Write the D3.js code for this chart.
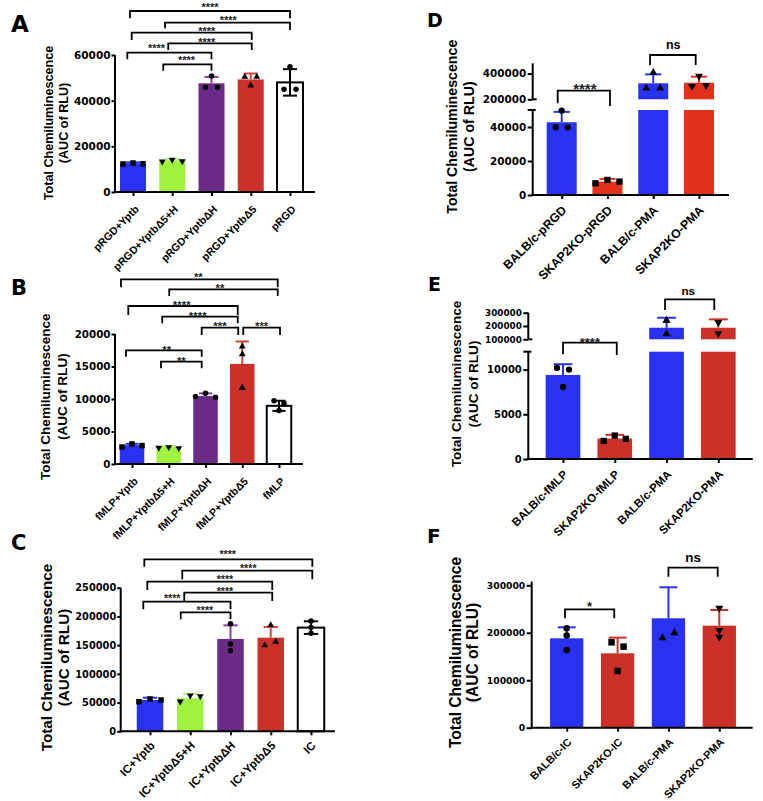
<!DOCTYPE html>
<html><head><meta charset="utf-8">
<script src="https://cdn.jsdelivr.net/npm/d3@7"></script>
<style>body{margin:0;background:#fff} svg{display:block}</style>
</head><body>
<svg id="c" width="763" height="801"></svg>
<script>
// ================= DATA =================
const catsA = ["pRGD+Yptb","pRGD+YptbΔ5+H","pRGD+YptbΔH","pRGD+YptbΔ5","pRGD"];
const meansA = [12600, 13900, 47600, 49300, 48000];
const sdA = [400, 500, 2800, 2600, 5800];
const ptsA = [[12300,12700,12400],[13600,14300,13700],[50800,45900,45900],[50200,46400,50200],[54900,45000,45000]];

const catsB = ["fMLP+Yptb","fMLP+YptbΔ5+H","fMLP+YptbΔH","fMLP+YptbΔ5","fMLP"];
const meansB = [2900, 2650, 10450, 15400, 8950];
const sdB = [200, 120, 420, 3450, 780];
const ptsB = [[2620,3085,2830],[2570,2670,2520],[10390,10900,10280],[17990,16810,11670],[9720,9360,8230]];

const catsC = ["IC+Yptb","IC+YptbΔ5+H","IC+YptbΔH","IC+YptbΔ5","IC"];
const meansC = [54500, 57400, 160700, 163000, 180500];
const sdC = [4000, 7500, 23800, 18500, 11000];
const ptsC = [[51600,56300,54500],[52800,63200,62000],[187400,152000,140400],[184000,149100,155000],[192100,180500,170700]];

const catsD = ["BALB/c-pRGD","SKAP2KO-pRGD","BALB/c-PMA","SKAP2KO-PMA"];
const meansD = [42800, 7900, 324400, 329000];
const sdD = [6100, 1550, 69600, 47000];
const ptsD = [[49650,39800,39800],[6900,8870,7880],[405000,283000,283000],[385000,305000,312000]];

const catsE = ["BALB/c-fMLP","SKAP2KO-fMLP","BALB/c-PMA","SKAP2KO-PMA"];
const meansE = [9400, 2290, 187000, 187000];
const sdE = [1200, 410, 75000, 63000];
const ptsE = [[10190,10000,8050],[2020,2620,2250],[237000,237000,137000],[232000,232000,147000]];

const catsF = ["BALB/c-IC","SKAP2KO-IC","BALB/c-PMA","SKAP2KO-PMA"];
const meansF = [188300, 156700, 230500, 215000];
const sdF = [23200, 33000, 65300, 33000];
const ptsF = [[209400,194000,163700],[179900,170800,119500],[304300,188300,198900],[253000,205900,191800]];

const ticksA = [0,20000,40000,60000];
const ticksB = [0,5000,10000,15000,20000];
const ticksC = [0,50000,100000,150000,200000,250000];
const ticksDlow = [0,20000,40000], ticksDhigh = [200000,400000];
const ticksElow = [0,5000,10000], ticksEhigh = [100000,200000,300000];
const ticksF = [0,100000,200000,300000];

const yTitle = ["Total Chemiluminescence","(AUC of RLU)"];

// ================= STYLE / LAYOUT =================
const BLUE="#2a32f2", GREEN="#9ff23f", PURPLE="#6b2a88", RED="#cc3129", REDD="#e0311b";
const PURPLE_E="#8d3ca6", RED_E="#d8433a", GREEN_E="#b6f27a";
const FONT="'Liberation Sans', Arial, Helvetica, sans-serif";
const TFONT="'DejaVu Sans', sans-serif";

const svg = d3.select("#c");

function drawPanel(cfg, cats, means, sds, pts){
  const g = svg.append("g");
  const x = d3.scalePoint().domain(cats).range(cfg.cx);
  const segs = cfg.segs.map(s => Object.assign({}, s, {y: d3.scaleLinear().domain(s.dom).range(s.rng)}));
  const segOf = v => segs.find(s => v >= s.dom[0] && v <= s.dom[1]);
  const base = segs[0];
  const axisY = base.rng[0];

  // bars
  cats.forEach((c,i)=>{
    const m = means[i], col = cfg.fill[i], white = col==="white";
    segs.forEach(s=>{
      if (m <= s.dom[0]) return;
      const top = s.y(Math.min(m, s.dom[1])), bot = s.y(s.dom[0]);
      g.append("rect").attr("x", x(c)-cfg.bw/2).attr("y", top)
        .attr("width", cfg.bw).attr("height", bot-top)
        .attr("fill", white?"#fff":col)
        .attr("stroke", white?"#000":"none").attr("stroke-width", 2);
    });
  });
  // error bars
  cats.forEach((c,i)=>{
    const m = means[i], sd = sds[i], s = segOf(m), ec = cfg.err[i];
    if(!s) return;
    const xc = x(c), hw = cfg.bw*0.27;
    const yt = s.y(Math.min(m+sd, s.dom[1]));
    g.append("line").attr("x1",xc).attr("x2",xc).attr("y1",s.y(m)).attr("y2",yt).attr("stroke",ec).attr("stroke-width",2);
    g.append("line").attr("x1",xc-hw).attr("x2",xc+hw).attr("y1",yt).attr("y2",yt).attr("stroke",ec).attr("stroke-width",2);
    if (cfg.fill[i]==="white"){
      const yb = s.y(Math.max(m-sd, s.dom[0]));
      g.append("line").attr("x1",xc).attr("x2",xc).attr("y1",s.y(m)).attr("y2",yb).attr("stroke",ec).attr("stroke-width",2);
      g.append("line").attr("x1",xc-hw).attr("x2",xc+hw).attr("y1",yb).attr("y2",yb).attr("stroke",ec).attr("stroke-width",2);
    }
  });
  // points
  const sym = {
    circle: d3.symbol().type(d3.symbolCircle).size(Math.PI*Math.pow(cfg.mk/2,2)),
    square: d3.symbol().type(d3.symbolSquare).size(cfg.mk*cfg.mk),
    tri: d3.symbol().type(d3.symbolTriangle).size(Math.sqrt(3)/4*Math.pow(cfg.mk*1.25,2))
  };
  cats.forEach((c,i)=>{
    const shape = cfg.shapes[i];
    pts[i].forEach((v,k)=>{
      const s = segOf(v); if(!s) return;
      const px = x(c) + cfg.jit[i][k], py = s.y(v);
      const key = shape==="square"?"square":(shape==="circle"?"circle":"tri");
      const rot = shape==="down" ? 180 : 0;
      const dy = shape==="up" ? -0.5 : (shape==="down"? 0.5 : 0);
      g.append("path").attr("d", sym[key]()).attr("fill","#000")
        .attr("transform", `translate(${px},${py+dy}) rotate(${rot})`);
    });
  });

  // y axis segments
  segs.forEach((s,si)=>{
    const top = s.top!==undefined ? s.top : s.rng[1];
    g.append("line").attr("x1",cfg.ax0).attr("x2",cfg.ax0).attr("y1",s.rng[0]+ (si===0?1:0)).attr("y2",top)
      .attr("stroke","#000").attr("stroke-width",2);
    const ax = g.append("g").attr("transform",`translate(${cfg.ax0},0)`)
      .call(d3.axisLeft(s.y).tickValues(s.ticks).tickSize(cfg.tickLen).tickPadding(cfg.tickGap).tickSizeOuter(0).tickFormat(d3.format("d")));
    ax.select(".domain").remove();
    ax.selectAll(".tick line").attr("stroke","#000").attr("stroke-width",2);
    ax.selectAll(".tick text").attr("font-family",TFONT).attr("font-weight","bold")
      .attr("font-size", s.font || cfg.tickFont).attr("fill","#000");
    if (s.breakTop){
      g.append("line").attr("x1",cfg.ax0-5).attr("x2",cfg.ax0+3).attr("y1",s.rng[1]).attr("y2",s.rng[1]).attr("stroke","#000").attr("stroke-width",2);
    }
    if (s.breakBottom){
      g.append("line").attr("x1",cfg.ax0).attr("x2",cfg.ax0+4).attr("y1",s.rng[0]).attr("y2",s.rng[0]).attr("stroke","#000").attr("stroke-width",2);
    }
  });

  // x axis
  g.append("line").attr("x1",cfg.ax0-1).attr("x2",cfg.ax1).attr("y1",axisY).attr("y2",axisY).attr("stroke","#000").attr("stroke-width",2);
  const xa = g.append("g").attr("transform",`translate(0,${axisY})`)
    .call(d3.axisBottom(x).tickSize(4).tickSizeOuter(0));
  xa.select(".domain").remove();
  xa.selectAll(".tick line").attr("stroke","#000").attr("stroke-width",2);
  xa.selectAll(".tick text")
    .attr("font-family",FONT).attr("font-weight","bold").attr("font-size",cfg.xlab.size).attr("fill","#000")
    .attr("text-anchor","end").attr("x",0).attr("y",0).attr("dy",0)
    .attr("transform",`translate(${cfg.xlab.dx},${cfg.xlab.dy}) rotate(-45)`);

  // y title
  const tt = g.append("g").attr("font-family",FONT).attr("font-weight","bold").attr("font-size",cfg.title.size).attr("text-anchor","middle").attr("fill","#000");
  yTitle.forEach((t,k)=>{
    const bx = cfg.title.xs[k] + 0.36*cfg.title.size;
    tt.append("text").attr("transform",`translate(${bx},${cfg.title.cy}) rotate(-90)`).text(t);
  });

  // panel letter
  g.append("text").attr("x",cfg.letter.x).attr("y",cfg.letter.y).attr("font-family",TFONT).attr("font-weight","bold")
    .attr("font-size",cfg.letter.size).attr("fill","#000").text(cfg.letter.t);

  // significance brackets
  cfg.brackets.forEach(b=>{
    const x1 = x(cats[b.i]) + b.dx1, x2 = x(cats[b.j]) + b.dx2;
    g.append("path").attr("d",`M${x1},${b.l1}V${b.y}H${x2}V${b.l2}`).attr("fill","none").attr("stroke","#000").attr("stroke-width",1.8);
    const isNs = b.t==="ns";
    const fs = isNs ? cfg.nsSize : cfg.sigSize;
    const base = b.ty + (isNs ? 0.27 : 0.57)*fs;
    g.append("text").attr("x",(x1+x2)/2 + (b.tdx||0)).attr("y",base).attr("text-anchor","middle")
      .attr("font-family",FONT).attr("font-weight","bold").attr("font-size",fs).attr("fill", isNs?"#000":"#222").text(b.t);
  });
}

const cfgA = {
  letter:{t:"A",x:11,y:32,size:23},
  cx:[133,290], bw:26, ax0:115, ax1:315,
  segs:[{dom:[0,60000], rng:[192,55], ticks:ticksA}],
  tickFont:10.5, tickLen:3.5, tickGap:1,
  title:{xs:[48.3,63.3], cy:123, size:12.6},
  xlab:{size:10.6, dx:6, dy:18},
  mk:5.5, sigSize:11, nsSize:12,
  fill:[BLUE,GREEN,PURPLE,RED,"white"], err:[BLUE,GREEN_E,PURPLE_E,RED_E,"#000"],
  shapes:["square","down","circle","up","circle"],
  jit:[[-10,0,10],[-10,0,10],[0,-6,6],[-6,0,6],[0,-6,6]],
  brackets:[
    {i:0,dx1:-3,j:4,dx2:0,y:11,l1:18.3,l2:18.3,t:"****",tdx:0,ty:4.7},
    {i:1,dx1:-7.25,j:4,dx2:0,y:22.7,l1:28.3,l2:30,t:"****",tdx:0.8,ty:17.3},
    {i:0,dx1:-1.3,j:3,dx2:1,y:32.7,l1:40,l2:40,t:"****",tdx:15,ty:28.3},
    {i:1,dx1:-4,j:3,dx2:1,y:43.3,l1:50,l2:50,t:"****",tdx:-3.3,ty:40},
    {i:0,dx1:-5.7,j:2,dx2:0,y:52.7,l1:59.3,l2:59.3,t:"****",tdx:-12.8,ty:45.7},
    {i:1,dx1:-9,j:2,dx2:0,y:64.3,l1:70.7,l2:70.7,t:"****",tdx:-0.8,ty:57.7}
  ]
};
const cfgB = {
  letter:{t:"B",x:11,y:295,size:21},
  cx:[132,279], bw:24.5, ax0:115, ax1:303,
  segs:[{dom:[0,20000], rng:[464,334], ticks:ticksB}],
  tickFont:10.3, tickLen:3.5, tickGap:1,
  title:{xs:[45,61.7], cy:396.7, size:13.6},
  xlab:{size:10.6, dx:6, dy:18},
  mk:5.5, sigSize:11.4, nsSize:12,
  fill:[BLUE,GREEN,PURPLE,RED,"white"], err:[BLUE,GREEN_E,PURPLE_E,RED_E,"#000"],
  shapes:["square","down","circle","up","circle"],
  jit:[[-10,0,10],[-10,0,10],[-10,0,10],[0,0,0],[-5,5,0]],
  brackets:[
    {i:0,dx1:-11,j:4,dx2:-1.3,y:279.3,l1:287.3,l2:287.3,t:"**",tdx:-1,ty:274.7},
    {i:1,dx1:0.5,j:4,dx2:-1.3,y:289.3,l1:296,l2:296,t:"**",tdx:-3.5,ty:286},
    {i:0,dx1:-3.7,j:3,dx2:-4.5,y:306,l1:315,l2:315,t:"****",tdx:-1.3,ty:302.3},
    {i:1,dx1:-6.5,j:3,dx2:-4.5,y:316.7,l1:323.3,l2:323.3,t:"****",tdx:-2.3,ty:313.3},
    {i:2,dx1:-3.8,j:3,dx2:-4,y:327.7,l1:335,l2:335,t:"***",tdx:0,ty:323.3},
    {i:3,dx1:1,j:4,dx2:1,y:327.7,l1:335,l2:335,t:"***",tdx:0,ty:323.3},
    {i:0,dx1:-6,j:2,dx2:-3.8,y:350.3,l1:356.7,l2:356.7,t:"**",tdx:2.8,ty:347.3},
    {i:1,dx1:-7.75,j:2,dx2:-3.8,y:361.7,l1:368.3,l2:368.3,t:"**",tdx:0,ty:358.3}
  ]
};
const cfgC = {
  letter:{t:"C",x:11,y:550,size:21},
  cx:[150,311], bw:26.5, ax0:120.7, ax1:335,
  segs:[{dom:[0,250000], rng:[731.3,587.7], ticks:ticksC}],
  tickFont:9.8, tickLen:3.5, tickGap:1,
  title:{xs:[46.7,63.3], cy:657.5, size:15.3},
  xlab:{size:11.6, dx:5, dy:15},
  mk:5.5, sigSize:10.7, nsSize:12,
  fill:[BLUE,GREEN,PURPLE,RED,"white"], err:[BLUE,GREEN_E,PURPLE_E,RED_E,"#000"],
  shapes:["square","down","circle","up","circle"],
  jit:[[-11,0,11],[-10,0,10],[0,0,0],[0,-6,5],[0,0,0]],
  brackets:[
    {i:0,dx1:-5.7,j:4,dx2:1.3,y:559.3,l1:566.7,l2:566.7,t:"****",tdx:-0.6,ty:552.3},
    {i:1,dx1:-8,j:4,dx2:1.3,y:570.7,l1:579.3,l2:579.3,t:"****",tdx:1,ty:566},
    {i:0,dx1:-2.7,j:3,dx2:1.5,y:581.7,l1:590,l2:590,t:"****",tdx:15.2,ty:576.7},
    {i:1,dx1:-6,j:3,dx2:1.5,y:592.7,l1:601,l2:601,t:"****",tdx:-3.3,ty:589.3},
    {i:0,dx1:-6.7,j:2,dx2:0,y:601.7,l1:609.3,l2:609.3,t:"****",tdx:-14.7,ty:596},
    {i:1,dx1:-9.5,j:2,dx2:0,y:612.3,l1:619.3,l2:619.3,t:"****",tdx:-0.7,ty:608.3}
  ]
};
const cfgD = {
  letter:{t:"D",x:427,y:27,size:19},
  cx:[561.7,699], bw:30, ax0:532.7, ax1:729,
  segs:[{dom:[0,50000], rng:[195,110], ticks:ticksDlow, breakTop:true},
        {dom:[200000,480000], rng:[99.3,63.3], ticks:ticksDhigh, breakBottom:true}],
  tickFont:10.4, tickLen:5, tickGap:1.5,
  title:{xs:[451.7,469.3], cy:126.7, size:14.2},
  xlab:{size:12.3, dx:5, dy:16},
  mk:6.3, sigSize:15, nsSize:12.5,
  fill:[BLUE,REDD,BLUE,REDD], err:[BLUE,REDD,BLUE,REDD],
  shapes:["circle","square","up","down"],
  jit:[[0,-6,6],[-12,0,12],[0,-7,7],[0,-7,7]],
  brackets:[
    {i:0,dx1:-4,j:1,dx2:2.5,y:90.7,l1:103.3,l2:106,t:"****",tdx:1,ty:85.7},
    {i:2,dx1:-3.2,j:3,dx2:-3.3,y:55,l1:65,l2:65,t:"ns",tdx:0.4,ty:46}
  ]
};
const cfgE = {
  letter:{t:"E",x:428,y:291,size:19},
  cx:[563,718.3], bw:34.7, ax0:528.3, ax1:752.7,
  segs:[{dom:[0,12000], rng:[459,351.7], ticks:ticksElow, breakTop:true},
        {dom:[100000,300000], rng:[339.3,312.7], ticks:ticksEhigh, breakBottom:true, font:8.8}],
  tickFont:10, tickLen:5, tickGap:1.5,
  title:{xs:[456,473.3], cy:384, size:13.6},
  xlab:{size:11.5, dx:5, dy:16},
  mk:6.3, sigSize:13, nsSize:11.8,
  fill:[BLUE,RED,BLUE,RED], err:[BLUE,RED,BLUE,RED],
  shapes:["circle","square","up","down"],
  jit:[[-6,6,0],[-11,0,11],[0,0,0],[0,0,0]],
  brackets:[
    {i:0,dx1:0,j:1,dx2:2,y:342.7,l1:354,l2:355,t:"****",tdx:0,ty:339.3},
    {i:2,dx1:-1.5,j:3,dx2:-4,y:299.3,l1:310,l2:310,t:"ns",tdx:-1.4,ty:292.3}
  ]
};
const cfgF = {
  letter:{t:"F",x:427,y:543,size:20},
  cx:[566.7,719.3], bw:33.3, ax0:531.7, ax1:752.7,
  segs:[{dom:[0,300000], rng:[727.7,585.3], ticks:ticksF, top:581.7}],
  tickFont:9.2, tickLen:5, tickGap:1.5,
  title:{xs:[455,472.7], cy:652.5, size:15.6},
  xlab:{size:10.8, dx:5, dy:15},
  mk:6.5, sigSize:13, nsSize:13.4,
  fill:[BLUE,RED,BLUE,RED], err:[BLUE,RED,BLUE,RED],
  shapes:["circle","square","up","down"],
  jit:[[0,0,0],[-6,6,0],[0,-6,6],[0,0,0]],
  brackets:[
    {i:0,dx1:-1.7,j:1,dx2:-3.3,y:609.3,l1:618.3,l2:618.3,t:"*",tdx:0,ty:603.3},
    {i:2,dx1:0,j:3,dx2:-1.6,y:567.7,l1:576.7,l2:576.7,t:"ns",tdx:0,ty:558.3}
  ]
};

drawPanel(cfgA, catsA, meansA, sdA, ptsA);
drawPanel(cfgB, catsB, meansB, sdB, ptsB);
drawPanel(cfgC, catsC, meansC, sdC, ptsC);
drawPanel(cfgD, catsD, meansD, sdD, ptsD);
drawPanel(cfgE, catsE, meansE, sdE, ptsE);
drawPanel(cfgF, catsF, meansF, sdF, ptsF);
</script>
</body></html>
